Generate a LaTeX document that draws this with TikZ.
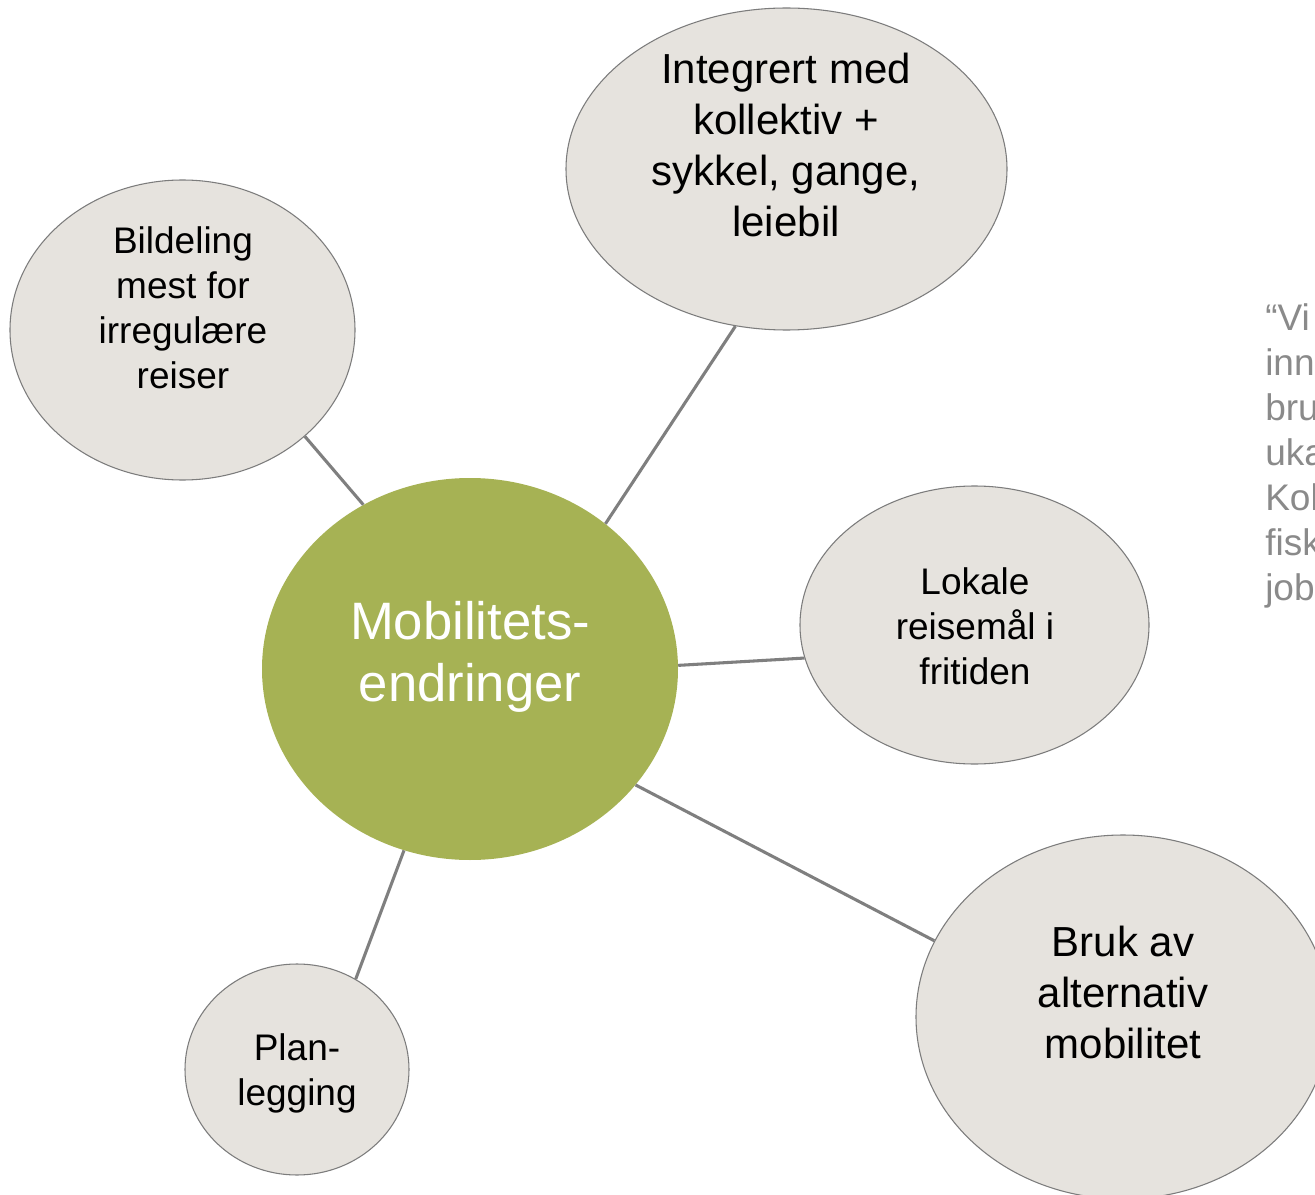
\documentclass[tikz,border=0pt]{standalone}
\usepackage{fontspec}
\setmainfont{Liberation Sans}
\usetikzlibrary{shapes.geometric}
\newdimen\pxu \pxu=0.75pt
\definecolor{hubgreen}{HTML}{A6B254}
\definecolor{bubblefill}{HTML}{E6E3DE}
\definecolor{bubbleline}{HTML}{7C7C7C}
\definecolor{linkgray}{HTML}{7F7F7F}
\definecolor{quotegray}{HTML}{8A8A8A}
\tikzset{
  bubble/.style={ellipse, draw=bubbleline, line width=0.8pt, fill=bubblefill, inner sep=0pt},
  hub/.style={ellipse, fill=hubgreen, inner sep=0pt},
  link/.style={draw=linkgray, line width=2.3pt},
  bigtxt/.style={align=center, font=\fontsize{31.5pt}{38.25pt}\selectfont, inner sep=0pt},
  midtxt/.style={align=center, font=\fontsize{27.75pt}{33.75pt}\selectfont, inner sep=0pt},
  hubtxt/.style={align=center, text=white, font=\fontsize{39.5pt}{46.5pt}\selectfont, inner sep=0pt},
  quotetxt/.style={align=left, text=quotegray, font=\fontsize{27.75pt}{33.75pt}\selectfont, inner sep=0pt, anchor=west}
}
\begin{document}
\begin{tikzpicture}[x=0.75pt, y=-0.75pt]
\useasboundingbox (0,0) rectangle (1315,1195);
\clip (0,0) rectangle (1315,1195);
\fill[white] (0,0) rectangle (1315,1195);
% bubbles
\node[hub, minimum width=416\pxu, minimum height=382\pxu] (hub) at (470,669) {};
\node[bubble, minimum width=345\pxu, minimum height=300\pxu] (bil) at (182.5,330) {};
\node[bubble, minimum width=441\pxu, minimum height=322\pxu] (int) at (786.5,169) {};
\node[bubble, minimum width=349\pxu, minimum height=278\pxu] (lok) at (974.5,625) {};
\node[bubble, minimum width=414\pxu, minimum height=364\pxu] (bruk) at (1123,1017) {};
\node[bubble, minimum width=224\pxu, minimum height=211\pxu] (plan) at (297,1069.5) {};
% connectors
\draw[link] (hub.123.4) -- (bil.-41.8);
\draw[link] (hub.47.2) -- (int.252);
\draw[link] (hub.1.4) -- (lok.191);
\draw[link] (hub.-35.1) -- (bruk.158.5);
\draw[link] (hub.250.4) -- (plan.57.2);
% texts
\node[hubtxt] (hubt) at (470,657) {Mobilitets-\\endringer};
\node[midtxt] (bilt) at (183,308) {Bildeling\\mest for\\irregulære\\reiser};
\node[bigtxt] (intt) at (786,145) {Integrert med\\kollektiv +\\sykkel, gange,\\leiebil};
\node[midtxt] (lokt) at (975,626) {Lokale\\reisemål i\\fritiden};
\node[bigtxt] (brukt) at (1123,992) {Bruk av\\alternativ\\mobilitet};
\node[midtxt] (plant) at (297,1073) {Plan-\\legging};
\node[quotetxt] (quote) at (1265,456) {“Vi\\inn\\bru\\uka\\Kol\\fisk\\job};
\end{tikzpicture}
\end{document}
